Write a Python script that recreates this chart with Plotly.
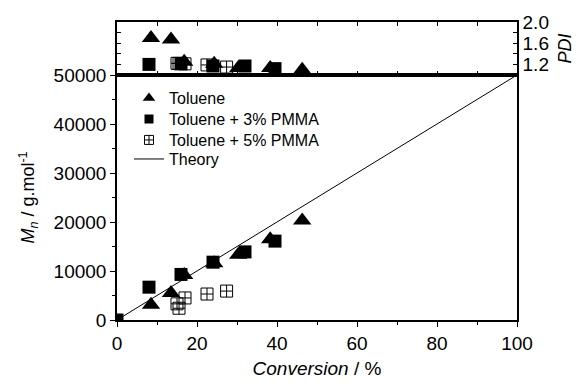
import plotly.graph_objects as go

# ---- data ----
tol_conv = [8.5, 13.5, 16.8, 24.3, 30.3, 38.3, 46.3]
tol_mn = [3100, 5500, 9200, 11600, 13300, 16500, 20300]
tol_pdi = [1.70, 1.67, 1.25, 1.21, 1.13, 1.13, 1.10]

p3_conv = [0.0, 8.0, 16.0, 24.0, 32.0, 39.5]
p3_mn = [0, 6700, 9300, 11800, 13900, 16100]
p3_pdi = [None, 1.20, 1.21, 1.17, 1.17, 1.12]

p5_conv = [15.0, 15.5, 17.0, 22.5, 27.4]
p5_mn = [3300, 2400, 4500, 5300, 5900]
p5_pdi = [1.22, 1.22, 1.21, 1.19, 1.15]

theory_conv = [0, 100]
theory_mn = [0, 50000]

x_ticks = [0, 20, 40, 60, 80, 100]
mn_ticks = [0, 10000, 20000, 30000, 40000, 50000]
mn_labels = ["0", "10000", "20000", "30000", "40000", "50000"]
pdi_ticks = [1.2, 1.6, 2.0]
pdi_labels = ["1.2", "1.6", "2.0"]

FONT = "Arial, Liberation Sans, sans-serif"
split = (320 - 75) / 298

fig = go.Figure()

TRI = dict(symbol="triangle-up", size=16, color="black")
SQ = dict(symbol="square", size=13, color="black")
SQX = dict(symbol="square-cross-open", size=12, color="black", line=dict(width=1))

# main panel
fig.add_trace(go.Scatter(x=theory_conv, y=theory_mn, mode="lines",
                         line=dict(color="black", width=1), name="Theory",
                         legend="legend4", xaxis="x", yaxis="y"))
fig.add_trace(go.Scatter(x=p5_conv, y=p5_mn, mode="markers", showlegend=False,
                         marker=SQX, xaxis="x", yaxis="y", cliponaxis=False))
fig.add_trace(go.Scatter(x=p3_conv, y=p3_mn, mode="markers", showlegend=False,
                         marker=SQ, xaxis="x", yaxis="y", cliponaxis=True))
fig.add_trace(go.Scatter(x=tol_conv, y=tol_mn, mode="markers", showlegend=False,
                         marker=TRI, xaxis="x", yaxis="y", cliponaxis=False))

# legend entries (small symbols as in the reference)
fig.add_trace(go.Scatter(x=[None], y=[None], mode="markers", name="Toluene",
                         marker=dict(symbol="triangle-up", size=11, color="black"),
                         legend="legend", xaxis="x", yaxis="y"))
fig.add_trace(go.Scatter(x=[None], y=[None], mode="markers", name="Toluene + 3% PMMA",
                         marker=dict(symbol="square", size=9, color="black"),
                         legend="legend2", xaxis="x", yaxis="y"))
fig.add_trace(go.Scatter(x=[None], y=[None], mode="markers", name="Toluene + 5% PMMA",
                         marker=dict(symbol="square-cross-open", size=9, color="black",
                                     line=dict(width=1)),
                         legend="legend3", xaxis="x", yaxis="y"))

# top panel (PDI)
fig.add_trace(go.Scatter(x=p5_conv, y=p5_pdi, mode="markers", showlegend=False,
                         marker=SQX, xaxis="x2", yaxis="y2", cliponaxis=False))
fig.add_trace(go.Scatter(x=p3_conv, y=p3_pdi, mode="markers", showlegend=False,
                         marker=SQ, xaxis="x2", yaxis="y2", cliponaxis=False))
fig.add_trace(go.Scatter(x=tol_conv, y=tol_pdi, mode="markers", showlegend=False,
                         marker=TRI, xaxis="x2", yaxis="y2", cliponaxis=False))

axis_common = dict(showgrid=False, zeroline=False, showline=True, linecolor="black",
                   linewidth=1.5, tickcolor="black", automargin=False,
                   tickfont=dict(family=FONT, size=19, color="black"))


def leg(yc):
    return dict(x=0.03, y=yc, xanchor="left", yanchor="middle",
                bgcolor="rgba(0,0,0,0)", font=dict(family=FONT, size=16, color="black"),
                itemsizing="trace")


fig.update_layout(
    width=573, height=376,
    margin=dict(l=109, r=64, t=14, b=64),
    paper_bgcolor="white", plot_bgcolor="white",
    font=dict(family=FONT, color="black"),
    showlegend=True,
    legend=leg(0.745),
    legend2=leg(0.674),
    legend3=leg(0.604),
    legend4=leg(0.540),
    xaxis=dict(**axis_common, domain=[0, 1], anchor="y", range=[0, 100],
               tickmode="array", tickvals=x_ticks, ticks="outside", ticklen=5,
               minor=dict(dtick=10, ticks="outside", ticklen=3, tickcolor="black"),
               mirror=True,
               title=dict(text="<i>Conversion</i> / %", font=dict(family=FONT, size=19),
                          standoff=9)),
    yaxis=dict(**axis_common, domain=[0, split], anchor="x", range=[0, 50000],
               tickmode="array", tickvals=mn_ticks, ticktext=mn_labels,
               ticks="outside", ticklen=5,
               minor=dict(dtick=5000, ticks="outside", ticklen=3, tickcolor="black"),
               mirror=True,
               title=dict(text="<i>M</i><sub><i>n</i></sub> / g.mol<sup>-1</sup>",
                          font=dict(family=FONT, size=18), standoff=14)),
    xaxis2=dict(**axis_common, domain=[0, 1], anchor="y2", range=[0, 100], matches="x",
                showticklabels=False, tickmode="array", tickvals=x_ticks,
                ticks="inside", ticklen=4, mirror="ticks",
                minor=dict(dtick=10, ticks="inside", ticklen=4, tickcolor="black")),
    yaxis2=dict(**axis_common, domain=[split, 1], anchor="x2", range=[1.0, 2.0], side="right",
                tickmode="array", tickvals=pdi_ticks, ticktext=pdi_labels,
                ticks="inside", ticklen=4, mirror="ticks",
                minor=dict(dtick=0.2, ticks="inside", ticklen=4, tickcolor="black"),
                title=dict(text="<i>PDI</i>", font=dict(family=FONT, size=18), standoff=10)),
)

fig.write_html("out.html")
